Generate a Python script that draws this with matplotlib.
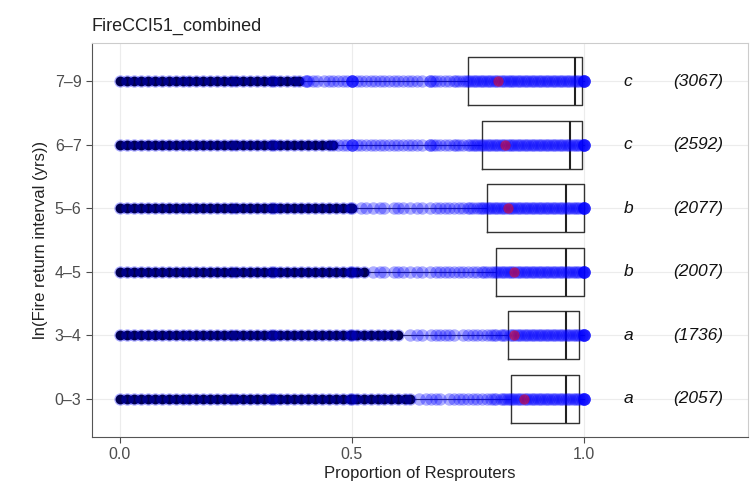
import matplotlib
matplotlib.use("Agg")
import matplotlib.pyplot as plt
import numpy as np

plt.rcParams['font.family'] = ['Liberation Sans', 'DejaVu Sans']

categories = ["0\u20133", "3\u20134", "4\u20135", "5\u20136", "6\u20137", "7\u20139"]
letters = ["a", "a", "b", "b", "c", "c"]
counts = ["(2057)", "(1736)", "(2007)", "(2077)", "(2592)", "(3067)"]

# box statistics (low whisker, Q1, median, Q3, high whisker, mean)
whislo = [0.63, 0.61, 0.535, 0.51, 0.465, 0.395]
q1 = [0.843, 0.835, 0.81, 0.79, 0.78, 0.75]
med = [0.96, 0.96, 0.96, 0.96, 0.97, 0.98]
q3 = [0.99, 0.99, 1.0, 1.0, 0.995, 0.995]
whishi = [1.0, 1.0, 1.0, 1.0, 1.0, 1.0]
means = [0.87, 0.85, 0.85, 0.835, 0.83, 0.815]

# points (proportion of resprouters), one list per class
pts_0_3 = [0.00, 0.015, 0.03, 0.045, 0.06, 0.075, 0.09, 0.105, 0.12, 0.135, 0.15, 0.165,
           0.18, 0.195, 0.21, 0.225, 0.24, 0.25, 0.265, 0.28, 0.295, 0.31, 0.325, 0.333,
           0.345, 0.36, 0.375, 0.39, 0.405, 0.42, 0.435, 0.45, 0.465, 0.48, 0.495, 0.50,
           0.51, 0.525, 0.54, 0.555, 0.57, 0.585, 0.60, 0.615, 0.625,
           0.645, 0.66, 0.67, 0.68, 0.69, 0.71, 0.72, 0.73, 0.74, 0.75, 0.76, 0.77, 0.78,
           0.79, 0.80, 0.805, 0.81, 0.82, 0.825, 0.83, 0.835,
           0.84, 0.845, 0.85, 0.855, 0.86, 0.865, 0.87, 0.875, 0.88, 0.885, 0.89, 0.895,
           0.90, 0.905, 0.91, 0.915, 0.92, 0.925, 0.93, 0.935, 0.94, 0.945, 0.95, 0.955,
           0.96, 0.965, 0.97, 0.975, 0.98, 0.985, 0.99, 0.995, 1.0, 1.0, 1.0, 1.0, 1.0]
pts_3_4 = [0.00, 0.015, 0.03, 0.045, 0.06, 0.075, 0.09, 0.105, 0.12, 0.135, 0.15, 0.165,
           0.18, 0.195, 0.21, 0.225, 0.24, 0.25, 0.265, 0.28, 0.295, 0.31, 0.325, 0.333,
           0.345, 0.36, 0.375, 0.39, 0.405, 0.42, 0.435, 0.45, 0.465, 0.48, 0.495, 0.50,
           0.51, 0.525, 0.54, 0.555, 0.57, 0.585, 0.60,
           0.625, 0.64, 0.65, 0.67, 0.68, 0.69, 0.70, 0.71, 0.72, 0.74, 0.75, 0.76, 0.77,
           0.78, 0.79, 0.80, 0.805, 0.81, 0.82, 0.825, 0.83,
           0.84, 0.845, 0.85, 0.855, 0.86, 0.865, 0.87, 0.875, 0.88, 0.885, 0.89, 0.895,
           0.90, 0.905, 0.91, 0.915, 0.92, 0.925, 0.93, 0.935, 0.94, 0.945, 0.95, 0.955,
           0.96, 0.965, 0.97, 0.975, 0.98, 0.985, 0.99, 0.995, 1.0, 1.0, 1.0, 1.0, 1.0]
pts_4_5 = [0.00, 0.015, 0.03, 0.045, 0.06, 0.075, 0.09, 0.105, 0.12, 0.135, 0.15, 0.165,
           0.18, 0.195, 0.21, 0.225, 0.24, 0.25, 0.265, 0.28, 0.295, 0.31, 0.325, 0.333,
           0.345, 0.36, 0.375, 0.39, 0.405, 0.42, 0.435, 0.45, 0.465, 0.48, 0.495, 0.50,
           0.51, 0.525,
           0.545, 0.56, 0.57, 0.59, 0.60, 0.61, 0.625, 0.64, 0.65, 0.667, 0.68, 0.69, 0.70,
           0.71, 0.72, 0.73, 0.74, 0.75, 0.76, 0.77, 0.78, 0.785, 0.79, 0.80, 0.805,
           0.81, 0.815, 0.82, 0.825, 0.83, 0.835, 0.84, 0.845, 0.85, 0.855, 0.86, 0.865,
           0.87, 0.875, 0.88, 0.885, 0.89, 0.895, 0.90, 0.905, 0.91, 0.915, 0.92, 0.925,
           0.93, 0.935, 0.94, 0.945, 0.95, 0.955, 0.96, 0.965, 0.97, 0.975, 0.98, 0.985,
           0.99, 0.995, 1.0, 1.0, 1.0, 1.0, 1.0]
pts_5_6 = [0.00, 0.015, 0.03, 0.045, 0.06, 0.075, 0.09, 0.105, 0.12, 0.135, 0.15, 0.165,
           0.18, 0.195, 0.21, 0.225, 0.24, 0.25, 0.265, 0.28, 0.295, 0.31, 0.325, 0.333,
           0.345, 0.36, 0.375, 0.39, 0.405, 0.42, 0.435, 0.45, 0.465, 0.48, 0.495, 0.50,
           0.52, 0.53, 0.545, 0.56, 0.57, 0.59, 0.60, 0.61, 0.625, 0.64, 0.65, 0.667, 0.68,
           0.69, 0.70, 0.71, 0.72, 0.73, 0.74, 0.75, 0.755, 0.76, 0.77, 0.775, 0.78, 0.785,
           0.79, 0.795, 0.80, 0.805, 0.81, 0.815, 0.82, 0.825, 0.83, 0.835, 0.84, 0.845,
           0.85, 0.855, 0.86, 0.865, 0.87, 0.875, 0.88, 0.885, 0.89, 0.895, 0.90, 0.905,
           0.91, 0.915, 0.92, 0.925, 0.93, 0.935, 0.94, 0.945, 0.95, 0.955, 0.96, 0.965,
           0.97, 0.975, 0.98, 0.985, 0.99, 0.995, 1.0, 1.0, 1.0, 1.0, 1.0]
pts_6_7 = [0.00, 0.015, 0.03, 0.045, 0.06, 0.075, 0.09, 0.105, 0.12, 0.135, 0.15, 0.165,
           0.18, 0.195, 0.21, 0.225, 0.24, 0.25, 0.265, 0.28, 0.295, 0.31, 0.325, 0.333,
           0.345, 0.36, 0.375, 0.39, 0.405, 0.42, 0.435, 0.45, 0.46,
           0.47, 0.48, 0.49, 0.50, 0.50, 0.50, 0.51, 0.52, 0.53, 0.54, 0.55, 0.56, 0.57,
           0.58, 0.59, 0.60, 0.61, 0.62, 0.63, 0.64, 0.65, 0.667, 0.667, 0.675, 0.68, 0.69,
           0.70, 0.71, 0.72, 0.725, 0.73, 0.74, 0.75, 0.755, 0.76, 0.765, 0.77, 0.775,
           0.78, 0.785, 0.79, 0.795, 0.80, 0.805, 0.81, 0.815, 0.82, 0.825, 0.83, 0.835,
           0.84, 0.845, 0.85, 0.855, 0.86, 0.865, 0.87, 0.875, 0.88, 0.885, 0.89, 0.895,
           0.90, 0.905, 0.91, 0.915, 0.92, 0.925, 0.93, 0.935, 0.94, 0.945, 0.95, 0.955,
           0.96, 0.965, 0.97, 0.975, 0.98, 0.985, 0.99, 0.995, 1.0, 1.0, 1.0, 1.0, 1.0]
pts_7_9 = [0.00, 0.015, 0.03, 0.045, 0.06, 0.075, 0.09, 0.105, 0.12, 0.135, 0.15, 0.165,
           0.18, 0.195, 0.21, 0.225, 0.24, 0.25, 0.265, 0.28, 0.295, 0.31, 0.325, 0.333,
           0.345, 0.36, 0.375, 0.385,
           0.40, 0.40, 0.405, 0.415, 0.425, 0.44, 0.45, 0.46, 0.47, 0.48, 0.49, 0.50, 0.50,
           0.50, 0.50, 0.51, 0.52, 0.53, 0.54, 0.55, 0.56, 0.57, 0.58, 0.59, 0.60, 0.61,
           0.62, 0.63, 0.64, 0.65, 0.667, 0.667, 0.675, 0.68, 0.69, 0.70, 0.71, 0.72,
           0.725, 0.73, 0.74, 0.745, 0.75, 0.755, 0.76, 0.765, 0.77, 0.775, 0.78, 0.785,
           0.79, 0.795, 0.80, 0.805, 0.81, 0.815, 0.82, 0.825, 0.83, 0.835, 0.84, 0.845,
           0.85, 0.855, 0.86, 0.865, 0.87, 0.875, 0.88, 0.885, 0.89, 0.895, 0.90, 0.905,
           0.91, 0.915, 0.92, 0.925, 0.93, 0.935, 0.94, 0.945, 0.95, 0.955, 0.96, 0.965,
           0.97, 0.975, 0.98, 0.985, 0.99, 0.995, 1.0, 1.0, 1.0, 1.0, 1.0]
points = [pts_0_3, pts_3_4, pts_4_5, pts_5_6, pts_6_7, pts_7_9]

fig = plt.figure(figsize=(7.51, 4.92), dpi=100)
ax = fig.add_axes([0.1225, 0.112, 0.8735, 0.8005])
ax.set_facecolor("white")

ypos = np.arange(1, len(categories) + 1)

stats = []
for i, c in enumerate(categories):
    stats.append(dict(label=c, whislo=whislo[i], q1=q1[i], med=med[i], q3=q3[i],
                      whishi=whishi[i], fliers=[]))
ax.bxp(stats, positions=ypos, widths=0.75, vert=False, showfliers=False,
       patch_artist=False, manage_ticks=False,
       boxprops=dict(color="#333333", linewidth=1.0),
       medianprops=dict(color="#222222", linewidth=1.5),
       whiskerprops=dict(color="#333333", linewidth=0.8),
       capprops=dict(linewidth=0), zorder=2)

# outliers in black, then all points in translucent blue
for i, vals in enumerate(points):
    v = np.array(vals)
    out = v[v < whislo[i]]
    ax.scatter(out, np.full(out.shape, ypos[i]), s=50, color="black", linewidths=0,
               zorder=3)
for i, vals in enumerate(points):
    v = np.array(vals)
    ax.scatter(v, np.full(v.shape, ypos[i]), s=80, color="blue", alpha=0.32,
               linewidths=0, zorder=4)
ax.scatter(means, ypos, s=55, color="red", alpha=0.5, linewidths=0, zorder=5)

for i in range(len(categories)):
    ax.text(1.095, ypos[i], letters[i], style="italic", fontsize=12.5, ha="center",
            va="center", color="#111111")
    ax.text(1.245, ypos[i], counts[i], style="italic", fontsize=12.5, ha="center",
            va="center", color="#111111")

ax.set_xlim(-0.06, 1.353)
ax.set_ylim(0.4, 6.6)
ax.set_xticks([0.0, 0.5, 1.0])
ax.set_xticklabels(["0.0", "0.5", "1.0"])
ax.set_yticks(ypos)
ax.set_yticklabels(categories)
ax.tick_params(axis="both", colors="#4d4d4d", labelsize=11.5, length=4, width=0.8)
ax.grid(True, color="#ececec", linewidth=0.8)
ax.set_axisbelow(True)
for side in ["top", "right"]:
    ax.spines[side].set_color("#cccccc")
    ax.spines[side].set_linewidth(0.8)
for side in ["left", "bottom"]:
    ax.spines[side].set_color("#555555")
    ax.spines[side].set_linewidth(0.8)

ax.set_xlabel("Proportion of Resprouters", fontsize=12, color="#222222", labelpad=3)
ax.set_ylabel("ln(Fire return interval (yrs))", fontsize=12, color="#222222", labelpad=5)
ax.set_title("FireCCI51_combined", loc="left", fontsize=13, color="#222222", pad=9)

fig.savefig("out.png", dpi=100)
